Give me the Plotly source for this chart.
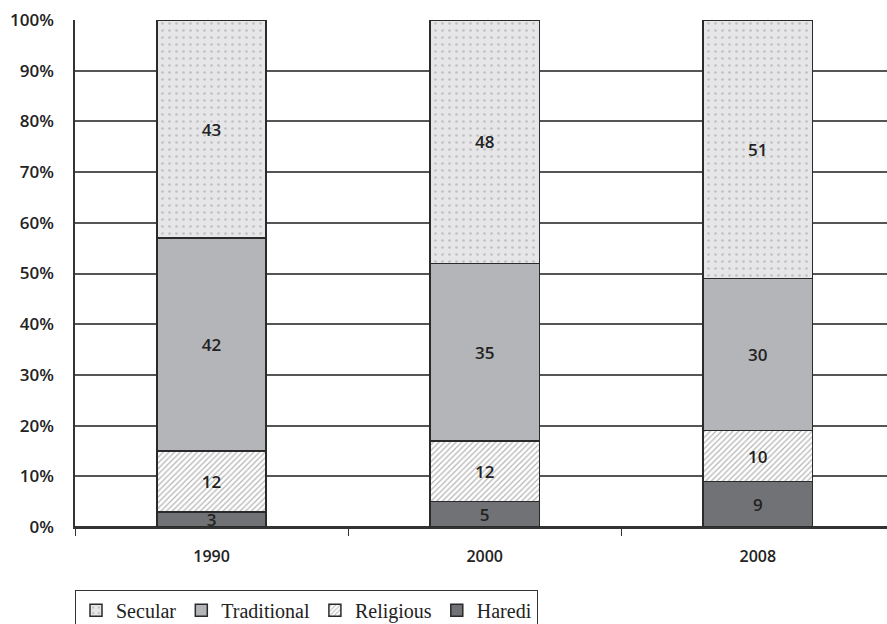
import plotly.graph_objects as go

years = ["1990", "2000", "2008"]
haredi = [3, 5, 9]
religious = [12, 12, 10]
traditional = [42, 35, 30]
secular = [43, 48, 51]

series = [
    ("Haredi", haredi, dict(color="#717275")),
    ("Religious", religious, dict(color="#ffffff", pattern=dict(shape="/", fgcolor="#6a6a6a", bgcolor="#ffffff", size=4, solidity=0.3))),
    ("Traditional", traditional, dict(color="#b4b5b9")),
    ("Secular", secular, dict(color="#e6e6e8", pattern=dict(shape=".", fgcolor="#9a9a9a", bgcolor="#e6e6e8", size=7, solidity=0.12))),
]

fig = go.Figure()
for name, vals, mk in series:
    mk = dict(mk)
    mk["line"] = dict(color="#2a2a2a", width=1.5)
    fig.add_trace(go.Bar(
        name=name, x=years, y=vals, marker=mk, width=0.4,
        text=[str(v) for v in vals], textposition="inside",
        insidetextanchor="middle", constraintext="none", textangle=0,
        textfont=dict(family="Open Sans", size=17, color="#222222", weight=600),
        hoverinfo="skip",
    ))

fig.update_layout(
    barmode="stack",
    width=887, height=624,
    margin=dict(l=75, r=0, t=20, b=97, autoexpand=False),
    plot_bgcolor="white", paper_bgcolor="white",
    uniformtext=dict(minsize=17, mode="show"),
    showlegend=True,
    legend=dict(
        orientation="h", traceorder="reversed",
        x=0.0, xanchor="left", y=-0.124, yanchor="top",
        bordercolor="#333333", borderwidth=1,
        font=dict(family="Liberation Serif", size=20, color="#222222"),
        itemwidth=30, tracegroupgap=0,
    ),
    xaxis=dict(
        range=[-0.5, 2.473],
        tickson="boundaries", ticks="outside", ticklen=7, tickcolor="#333333",
        showline=True, linecolor="#333333", linewidth=1.5,
        tickfont=dict(family="Open Sans", size=16, color="#222222", weight=600),
        ticklabelstandoff=14,
        showgrid=False,
    ),
    yaxis=dict(
        range=[0, 100], dtick=10, ticksuffix="%",
        showgrid=True, gridcolor="#555555", gridwidth=1.5,
        showline=True, linecolor="#333333", linewidth=1.5,
        zeroline=True, zerolinecolor="#333333", zerolinewidth=1.5,
        tickfont=dict(family="Open Sans", size=17, color="#222222", weight=600),
        ticks="", ticklabelstandoff=16,
    ),
)

fig.write_html("out.html")
